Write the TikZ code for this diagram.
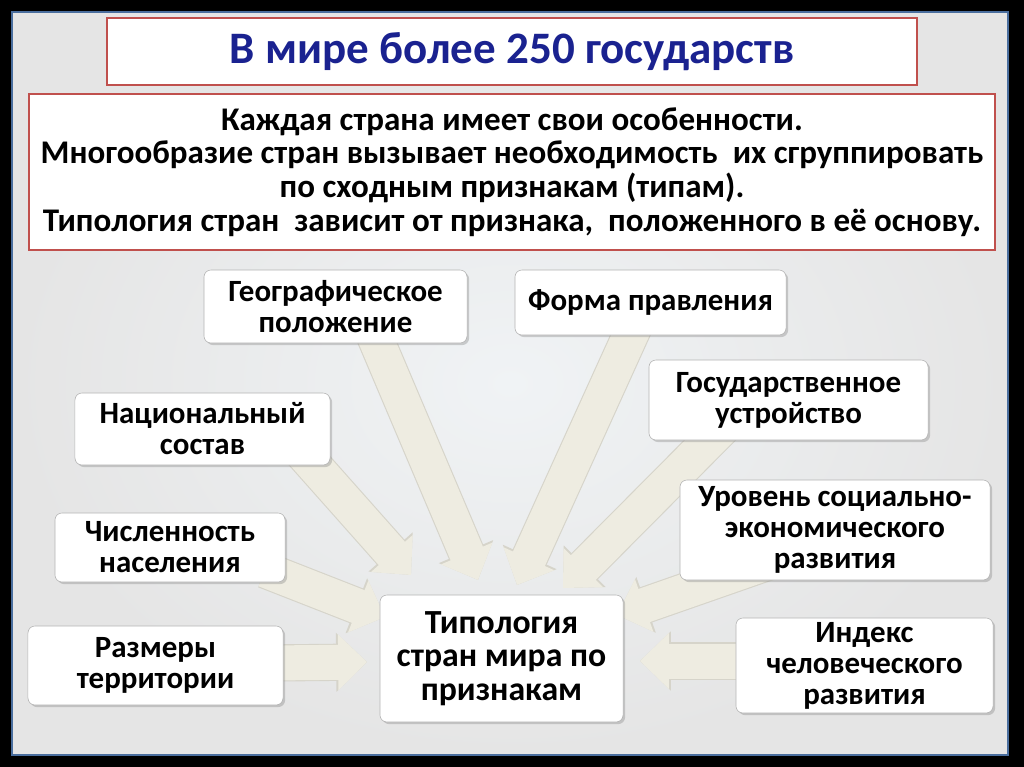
\documentclass[tikz,border=0pt]{standalone}
\usepackage{fontspec}
\setmainfont{Carlito}
\usetikzlibrary{arrows.meta, calc, shadows}
\definecolor{titleblue}{HTML}{1A2290}
\definecolor{boxred}{HTML}{C0504D}
\definecolor{arrowfill}{HTML}{EEECE1}
\definecolor{arrowedge}{HTML}{D6D4CA}
\definecolor{panelgray}{HTML}{E5E5E5}
\definecolor{panelglow}{HTML}{F0F3F5}
\definecolor{paneledge}{HTML}{4A6E9E}
\pgfdeclarelayer{background}
\pgfdeclarelayer{arrows}
\pgfsetlayers{background,arrows,main}

\begin{document}
\begin{tikzpicture}[
  x=0.025cm, y=-0.025cm,
  headbox/.style={draw=boxred, line width=1.2pt, fill=white, align=center, inner sep=0pt},
  sign/.style={draw=black!30, fill=white, rounded corners=5pt, align=center,
    inner sep=2pt, font=\fontsize{22}{22}\selectfont\bfseries,
    drop shadow={shadow xshift=1.5pt, shadow yshift=-1.5pt, opacity=0.35}},
  fanarrow/.style={line width=0.875cm, draw=arrowfill,
    -{Triangle[width=1.35cm, length=0.72cm]},
    preaction={draw=arrowedge, line width=0.93cm,
      -{Triangle[width=1.43cm, length=0.77cm]}}}
  ]
  \useasboundingbox (0,0) rectangle (1024,767);

  %--- frame and panel --------------------------------------------------------
  \begin{pgfonlayer}{background}
    \fill[black] (0,0) rectangle (1024,767);
    \shade[inner color=panelglow, outer color=panelgray] (12,12) rectangle (1008,755);
    \draw[paneledge, line width=1.5pt] (12,12) rectangle (1008,755);
  \end{pgfonlayer}

  %--- headings ---------------------------------------------------------------
  \node[headbox, minimum width=20.25cm, minimum height=1.675cm,
    font=\fontsize{32}{34}\selectfont\bfseries, text=titleblue] (title) at (512,51.5)
    {В мире более 250 государств};
  \node[headbox, minimum width=24.15cm, minimum height=3.9cm,
    font=\fontsize{23.5}{24}\selectfont\bfseries] (info) at (512,172)
    {Каждая страна имеет свои особенности.\\
     Многообразие стран вызывает необходимость\ \ их сгруппировать\\
     по сходным признакам (типам).\\
     Типология стран\ \ зависит от признака,\ \ положенного в её основу.};

  %--- signs ------------------------------------------------------------------
  \node[sign, minimum width=6.575cm, minimum height=1.825cm] (geo) at (335.5,306.5)
    {Географическое\\положение};
  \node[sign, minimum width=6.775cm, minimum height=1.625cm] (forma) at (650.5,302.5)
    {Форма правления};
  \node[sign, minimum width=6.375cm, minimum height=1.8cm] (nac) at (202.5,429)
    {Национальный\\состав};
  \node[sign, minimum width=6.975cm, minimum height=2cm] (gosust) at (788.5,400)
    {Государственное\\устройство};
  \node[sign, minimum width=5.75cm, minimum height=1.725cm] (chisl) at (170,547.5)
    {Численность\\населения};
  \node[sign, minimum width=7.75cm, minimum height=2.5cm] (uroven) at (835,530)
    {Уровень социально-\\экономического\\развития};
  \node[sign, minimum width=6.375cm, minimum height=1.975cm] (razm) at (155.5,665.5)
    {Размеры\\территории};
  \node[sign, minimum width=6.425cm, minimum height=2.375cm] (indeks) at (864.5,665.5)
    {Индекс\\человеческого\\развития};
  \node[sign, minimum width=6.075cm, minimum height=3.175cm,
    font=\fontsize{24}{24}\selectfont\bfseries] (tipol) at (501.5,658.5)
    {Типология\\стран мира по\\признакам};

  %--- arrow tips -------------------------------------------------------------
  \coordinate (tgeo)   at (478,580);
  \coordinate (tforma) at (517,585);
  \coordinate (tnac)   at (411,575);
  \coordinate (tgos)   at (563,588);
  \coordinate (tchisl) at (385,617);
  \coordinate (turov)  at (617,615);
  \coordinate (trazm)  at (367,662);
  \coordinate (tind)   at (640,661);

  %--- fan-in -----------------------------------------------------------------
  \begin{pgfonlayer}{arrows}
    \draw[fanarrow] ($(geo)+(36.5,23.5)$)    -- (tgeo);
    \draw[fanarrow] ($(forma)+(-15.5,22.5)$) -- (tforma);
    \draw[fanarrow] ($(nac)+(97.5,21)$)      -- (tnac);
    \draw[fanarrow] ($(gosust)+(-58.5,20)$)  -- (tgos);
    \draw[fanarrow] ($(chisl)+(95,22.5)$)    -- (tchisl);
    \draw[fanarrow] ($(uroven)+(-49,26)$)    -- (turov);
    \draw[fanarrow] ($(razm)+(114.5,-2.5)$)  -- (trazm);
    \draw[fanarrow] ($(indeks)+(-114.5,-4.5)$) -- (tind);
  \end{pgfonlayer}
\end{tikzpicture}
\end{document}
